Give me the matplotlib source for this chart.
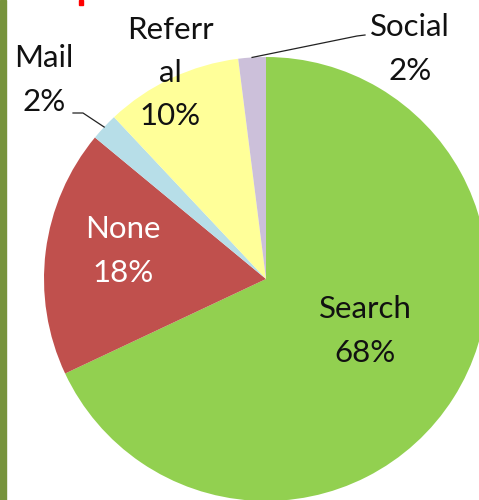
import numpy as np
import matplotlib
matplotlib.use("Agg")
import matplotlib.pyplot as plt

# traffic sources (percent)
labels = ["Search", "None", "Mail", "Referral", "Social"]
shown = ["Search", "None", "Mail", "Referr\nal", "Social"]
values = [68, 18, 2, 10, 2]
colors = ["#92D050", "#C0504D", "#B7DEE8", "#FFFF99", "#CCC0DA"]

W, H = 479, 500
fig = plt.figure(figsize=(W / 100, H / 100), dpi=100)

# olive bar on the left edge and the small red mark at the top
fig.patches.append(plt.Rectangle((0, 0), 6 / W, 1, transform=fig.transFigure,
                                 color="#77933C", zorder=0))
fig.patches.append(plt.Rectangle((79 / W, 1 - 5 / H), 4 / W, 5 / H,
                                 transform=fig.transFigure, color="#FF0000"))

# pie centre (266, 279) px, radius 222 px
cx, cy, r = 266, 279, 222
ax = fig.add_axes([(cx - r) / W, (H - cy - r) / H, 2 * r / W, 2 * r / H])
wedges, _ = ax.pie(values, colors=colors, startangle=90, counterclock=False,
                   radius=1, wedgeprops=dict(linewidth=0))
ax.set_xlim(-1, 1)
ax.set_ylim(-1, 1)
ax.axis("off")

fs = 22.5
font = dict(family="Lato", fontsize=fs, ha="center", va="center",
            linespacing=1.67)


def px(x, y):
    return (x - cx) / r, (cy - y) / r


# label centres (px)
label_pos = {
    "Search": (365, 331),
    "None": (123, 251),
    "Mail": (44, 80),
    "Referral": (170, 73),
    "Social": (410, 49),
}
text_col = {"None": "white"}

for name, txt, v in zip(labels, shown, values):
    x, y = px(*label_pos[name])
    ax.text(x, y, "%s\n%d%%" % (txt, v), color=text_col.get(name, "#111111"),
            clip_on=False, **font)


# leader lines for the small slices
def edge_point(i):
    w = wedges[i]
    a = np.deg2rad((w.theta1 + w.theta2) / 2)
    return np.cos(a), np.sin(a)


mx, my = edge_point(labels.index("Mail"))
k1 = px(73, 113)
k2 = px(83, 113)
ax.plot([k1[0], k2[0], mx], [k1[1], k2[1], my], color="#222222",
        lw=0.9, clip_on=False)

sx, sy = edge_point(labels.index("Social"))
k1 = px(357, 36)
k2 = px(365, 35)
ax.plot([sx, k1[0], k2[0]], [sy, k1[1], k2[1]], color="#222222", lw=0.9,
        clip_on=False)

fig.savefig("out.png", dpi=100)
